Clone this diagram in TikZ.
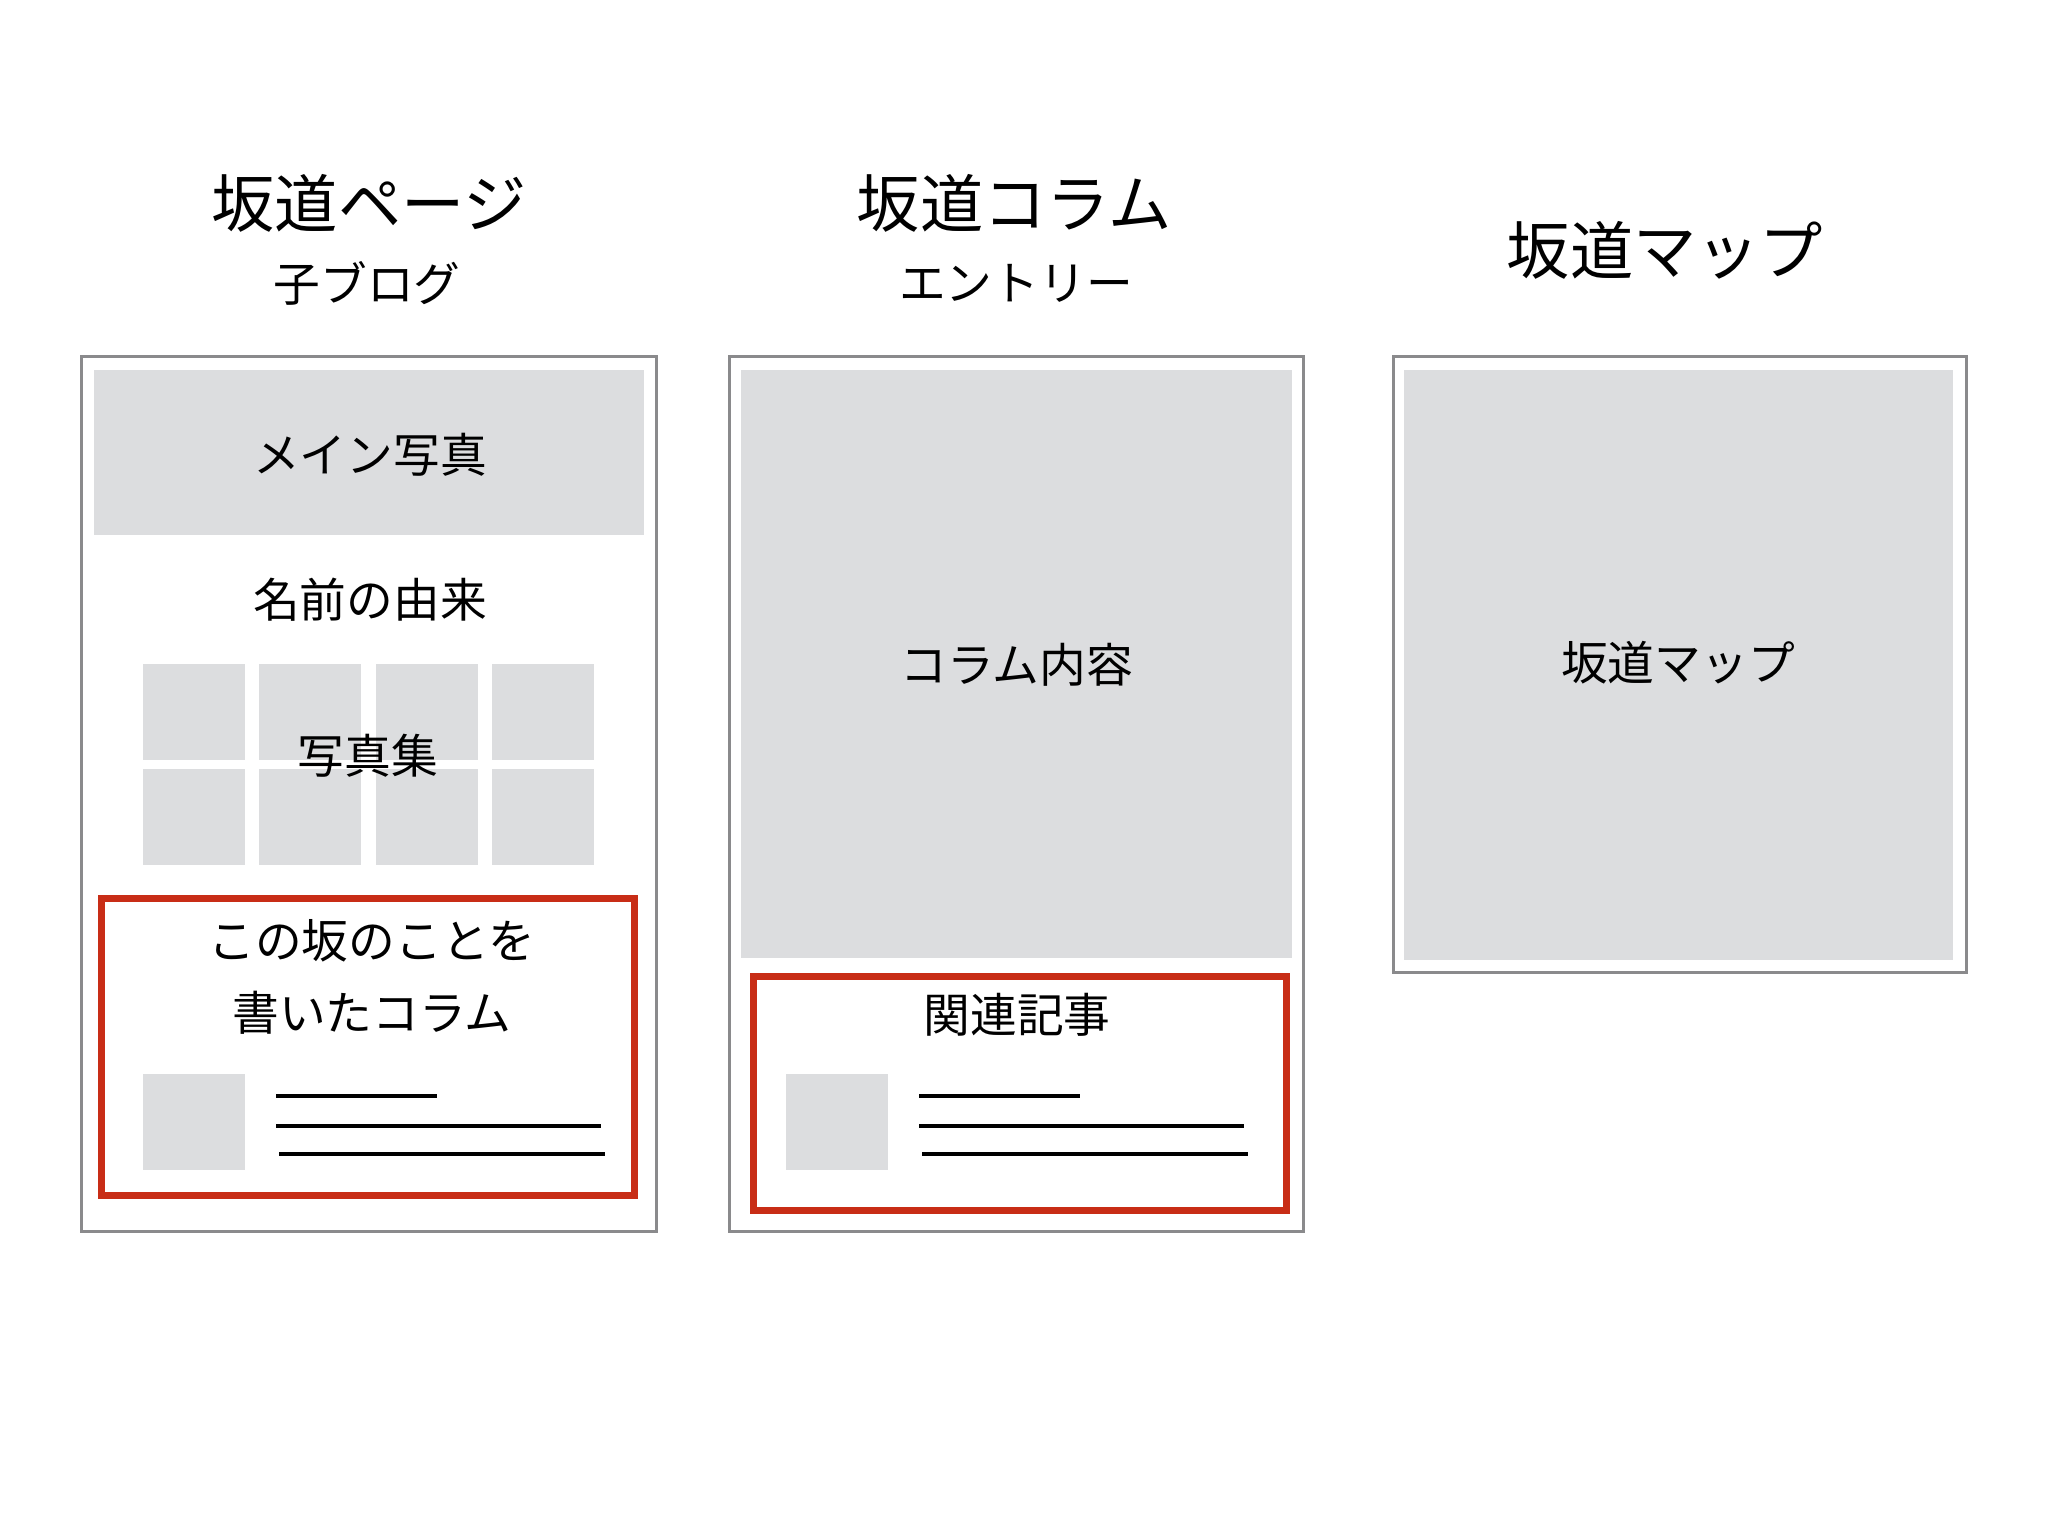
\documentclass[tikz,border=0pt]{standalone}
\usepackage{fontspec}
\setmainfont{Noto Sans CJK JP}
\usetikzlibrary{calc}
\definecolor{framegray}{RGB}{138,138,140}
\definecolor{panelgray}{RGB}{220,221,223}
\definecolor{markred}{RGB}{200,45,22}

\begin{document}
\begin{tikzpicture}[x=0.1mm,y=-0.1mm,
	frame/.style={draw=framegray,line width=0.3mm},
	panel/.style={fill=panelgray},
	markbox/.style={draw=markred,line width=0.7mm},
	textline/.style={draw=black,line width=0.38mm},
	title/.style={font=\fontsize{18pt}{21pt}\selectfont,inner sep=0pt},
	label/.style={font=\fontsize{13.3pt}{20.5pt}\selectfont,inner sep=0pt,align=center}]
			%%%%% START %%%%%
			\def\dx{643}
			\def\cw{102}
			\def\ch{96}
			
			\useasboundingbox (0,0) rectangle (2048,1536);
			
			% titles
			\node[title] (page) at (369,203) {坂道ページ};
			\node[label] (blog) at (367,283) {子ブログ};
			\node[title] (column) at (1014,203) {坂道コラム};
			\node[label] (entry) at (1016,283) {エントリー};
			\node[title] (map) at (1665,250) {坂道マップ};
			
			% left page
			\draw[frame] (81,356) rectangle (656,1231);
			\fill[panel] (94,370) rectangle (644,535);
			\node[label] (mainphoto) at (370,455) {メイン写真};
			\node[label] (origin) at (370,600) {名前の由来};
			\foreach \i in {0,...,3}
				\foreach \j in {0,1}
					\fill[panel] (143+116.3*\i,664+105*\j) rectangle ++(\cw,\ch);
			\node[label] (gallery) at (368,756) {写真集};
			\draw[markbox] (101,898) rectangle (634,1195);
			\node[label] (aboutslope) at (372,977) {この坂のことを\\書いたコラム};
			
			% middle page
			\draw[frame] (729,356) rectangle (1303,1231);
			\fill[panel] (741,370) rectangle (1292,958);
			\node[label] (content) at (1017,665) {コラム内容};
			\draw[markbox] (753,976) rectangle (1286,1210);
			\node[label] (related) at (1017,1015) {関連記事};
			
			% thumbnails and text lines
			\foreach \k in {0,1} {
				\fill[panel] (143+\dx*\k,1074) rectangle ++(\cw,\ch);
				\draw[textline] (276+\dx*\k,1096) -- (437+\dx*\k,1096);
				\draw[textline] (276+\dx*\k,1126) -- (601+\dx*\k,1126);
				\draw[textline] (279+\dx*\k,1154) -- (605+\dx*\k,1154);
			}
			
			% right page
			\draw[frame] (1393,356) rectangle (1966,972);
			\fill[panel] (1404,370) rectangle (1953,960);
			\node[label] (mapbody) at (1678,663) {坂道マップ};
			%%%%% END %%%%%
\end{tikzpicture}
\end{document}
